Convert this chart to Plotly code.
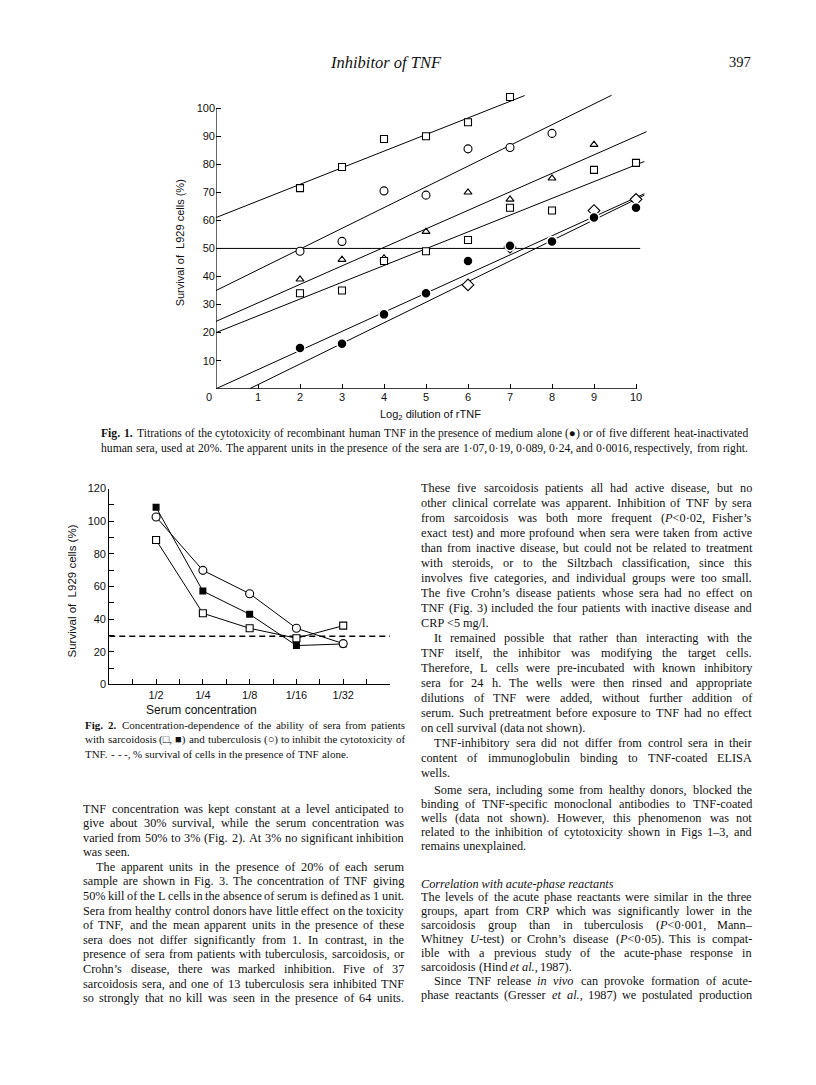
import re
import plotly.graph_objects as go

W, H = 816, 1085

# ---------------- Fig. 1: log2 dilution of rTNF vs % survival ----------------
DIL_TICKS = [1, 2, 3, 4, 5, 6, 7, 8, 9, 10]
SURV_TICKS = [10, 20, 30, 40, 50, 60, 70, 80, 90, 100]

SQ_TOP_X = [2, 3, 4, 5, 6, 7]
SQ_TOP_Y = [71.5, 79, 89, 90, 95, 104]
CIRC_X = [2, 3, 4, 5, 6, 7, 8]
CIRC_Y = [49, 52.5, 70.5, 69, 85.5, 86, 91]
TRI_X = [2, 3, 4, 5, 6, 7, 8, 9]
TRI_Y = [39, 46, 46.5, 56, 70, 67.5, 75, 87]
SQ_LOW_X = [2, 3, 4, 5, 6, 7, 8, 9, 10]
SQ_LOW_Y = [34, 35, 45.5, 49, 53, 64.5, 63.5, 78, 80.5]
MEDIUM_X = [2, 3, 4, 5, 6, 7, 8, 9, 10]
MEDIUM_Y = [14.5, 16, 26.5, 34, 45.5, 51, 52.5, 61, 64.5]
DIAM_X = [6, 7, 9, 10]
DIAM_Y = [37, 50.5, 63.5, 67.5]

# fitted lines as drawn (end points)
FIT_SQ_TOP_X, FIT_SQ_TOP_Y = [0, 7.35], [61, 104.5]
FIT_CIRC_X, FIT_CIRC_Y = [0, 9.42], [35, 104.6]
FIT_TRI_X, FIT_TRI_Y = [0, 10.25], [24, 91.6]
FIT_SQ_LOW_X, FIT_SQ_LOW_Y = [0, 10.2], [20, 81]
FIT_MEDIUM_X, FIT_MEDIUM_Y = [0, 10.2], [0, 69.5]
FIT_DIAM_X, FIT_DIAM_Y = [0.8, 10.2], [0, 69]
HALF_KILL_X, HALF_KILL_Y = [0, 10.1], [50, 50]

# ---------------- Fig. 2: serum concentration vs % survival ----------------
CONC = ["1/2", "1/4", "1/8", "1/16", "1/32"]
SARC_OPEN = [88.5, 43.6, 34.4, 28.3, 36]
SARC_FILLED = [108.5, 57.2, 43, 23.8, 24.8]
TB_OPEN = [102.6, 69.9, 55.6, 34.4, 25]
TNF_ALONE = 29.5
SURV2_TICKS = [0, 20, 40, 60, 80, 100, 120]

# ---------------- page text ----------------
HEADER = "Inhibitor of TNF"
PAGE_NO = "397"

CAPTION1 = [
    "Fig. 1. Titrations of the cytotoxicity of recombinant human TNF in the presence of medium alone (\u25cf) or of five different heat-inactivated",
    "human sera, used at 20%. The apparent units in the presence of the sera are 1\u00b707, 0\u00b719, 0\u00b7089, 0\u00b724, and 0\u00b70016, respectively, from right.",
]
CAPTION2 = [
    "Fig. 2. Concentration-dependence of the ability of sera from patients",
    "with sarcoidosis (\u25a1, \u25a0) and tuberculosis (\u25cb) to inhibit the cytotoxicity of",
    "TNF. - - -, % survival of cells in the presence of TNF alone.",
]

LEFT_PARAS = [
    (False, [
        "TNF concentration was kept constant at a level anticipated to",
        "give about 30% survival, while the serum concentration was",
        "varied from 50% to 3% (Fig. 2). At 3% no significant inhibition",
        "was seen.",
    ], False),
    (True, [
        "The apparent units in the presence of 20% of each serum",
        "sample are shown in Fig. 3. The concentration of TNF giving",
        "50% kill of the L cells in the absence of serum is defined as 1 unit.",
        "Sera from healthy control donors have little effect on the toxicity",
        "of TNF, and the mean apparent units in the presence of these",
        "sera does not differ significantly from 1. In contrast, in the",
        "presence of sera from patients with tuberculosis, sarcoidosis, or",
        "Crohn\u2019s disease, there was marked inhibition. Five of 37",
        "sarcoidosis sera, and one of 13 tuberculosis sera inhibited TNF",
        "so strongly that no kill was seen in the presence of 64 units.",
    ], True),
]

RIGHT_PARAS_TOP = [
    (False, [
        "These five sarcoidosis patients all had active disease, but no",
        "other clinical correlate was apparent. Inhibition of TNF by sera",
        "from sarcoidosis was both more frequent (<i>P</i><0\u00b702, Fisher\u2019s",
        "exact test) and more profound when sera were taken from active",
        "than from inactive disease, but could not be related to treatment",
        "with steroids, or to the Siltzbach classification, since this",
        "involves five categories, and individual groups were too small.",
        "The five Crohn\u2019s disease patients whose sera had no effect on",
        "TNF (Fig. 3) included the four patients with inactive disease and",
        "CRP <5 mg/l.",
    ], False),
    (True, [
        "It remained possible that rather than interacting with the",
        "TNF itself, the inhibitor was modifying the target cells.",
        "Therefore, L cells were pre-incubated with known inhibitory",
        "sera for 24 h. The wells were then rinsed and appropriate",
        "dilutions of TNF were added, without further addition of",
        "serum. Such pretreatment before exposure to TNF had no effect",
        "on cell survival (data not shown).",
    ], False),
    (True, [
        "TNF-inhibitory sera did not differ from control sera in their",
        "content of immunoglobulin binding to TNF-coated ELISA",
        "wells.",
    ], False),
]

RIGHT_PARAS_MID = [
    (True, [
        "Some sera, including some from healthy donors, blocked the",
        "binding of TNF-specific monoclonal antibodies to TNF-coated",
        "wells (data not shown). However, this phenomenon was not",
        "related to the inhibition of cytotoxicity shown in Figs 1\u20133, and",
        "remains unexplained.",
    ], False),
]

HEADING = "Correlation with acute-phase reactants"

RIGHT_PARAS_BOTTOM = [
    (False, [
        "The levels of the acute phase reactants were similar in the three",
        "groups, apart from CRP which was significantly lower in the",
        "sarcoidosis group than in tuberculosis (<i>P</i><0\u00b7001, Mann\u2013",
        "Whitney <i>U</i>-test) or Crohn\u2019s disease (<i>P</i><0\u00b705). This is compat-",
        "ible with a previous study of the acute-phase response in",
        "sarcoidosis (Hind <i>et</i> <i>al.</i>, 1987).",
    ], False),
    (True, [
        "Since TNF release <i>in</i> <i>vivo</i> can provoke formation of acute-",
        "phase reactants (Gresser <i>et</i> <i>al.</i>, 1987) we postulated production",
    ], True),
]

# Times-Roman advance widths (1/1000 em), Liberation Serif is metric compatible
TIMES = {" ": 250, "!": 333, "%": 833, "(": 333, ")": 333, ",": 250, "-": 333,
         ".": 250, "/": 278, ":": 278, ";": 278, "<": 564, "=": 564, "\u00b7": 250,
         "\u2013": 500, "\u2019": 333, "'": 333,
         "\u25cf": 604, "\u25a1": 604, "\u25a0": 604, "\u25cb": 604}
TIMES.update({d: 500 for d in "0123456789"})
TIMES.update(dict(zip("ABCDEFGHIJKLMNOPQRSTUVWXYZ",
                      [722, 667, 667, 722, 611, 556, 722, 722, 333, 389, 722, 611, 889,
                       722, 722, 556, 722, 667, 556, 611, 722, 722, 944, 722, 722, 611])))
TIMES.update(dict(zip("abcdefghijklmnopqrstuvwxyz",
                      [444, 500, 444, 500, 444, 333, 500, 500, 278, 278, 500, 278, 778,
                       500, 500, 500, 500, 333, 389, 278, 500, 500, 722, 500, 500, 444])))


def em_width(word, bold=False):
    plain = re.sub(r"<[^>]+>", "", word)
    w = sum(TIMES.get(c, 500) for c in plain) / 1000.0
    return w * (1.07 if bold else 1.0)


def line_em(words, bolds):
    return sum(em_width(w, b) for w, b in zip(words, bolds)) + 0.25 * (len(words) - 1)


def fit_font(lines, width, bold_lead=0):
    best = 99
    for k, ln in enumerate(lines):
        words = ln.split(" ")
        bolds = [(k == 0 and bold_lead > i) for i in range(len(words))]
        best = min(best, width / line_em(words, bolds))
    return best * 0.99


fig = go.Figure()
annots = []

SERIF = "Liberation Serif"
SANS = "Liberation Sans"


def px_ann(text, x, y, size, family=SERIF, xanchor="left", angle=0):
    annots.append(dict(text=text, x=x / W, y=1 - y / H, xref="paper", yref="paper",
                       xanchor=xanchor, yanchor="middle", showarrow=False,
                       textangle=angle, borderpad=0, borderwidth=0,
                       font=dict(family=family, size=size, color="#111")))


def set_lines(lines, x0, x1, ys, size, justify, indents, bold_lead=0):
    for k, ln in enumerate(lines):
        words = ln.split(" ")
        bolds = [(k == 0 and i < bold_lead) for i in range(len(words))]
        ws = [em_width(w, b) * size for w, b in zip(words, bolds)]
        start = x0 + indents[k]
        if justify[k] and len(words) > 1:
            gap = (x1 - start - sum(ws)) / (len(words) - 1)
        else:
            gap = 0.25 * size
        x = start
        for w, b, wd in zip(words, bolds, ws):
            px_ann("<b>%s</b>" % w if b else w, x, ys[k], size)
            x += wd + gap


def set_paras(paras, x0, x1, y0, dy, size, indent=13):
    y = y0
    for ind, lines, cont in paras:
        n = len(lines)
        ys = [y + i * dy for i in range(n)]
        just = [i < n - 1 or cont for i in range(n)]
        inds = [indent if (i == 0 and ind) else 0 for i in range(n)]
        set_lines(lines, x0, x1, ys, size, just, inds)
        y += n * dy


# ---------------- Fig. 1 traces ----------------
line_style = dict(color="black", width=1)
for fx, fy in [(FIT_SQ_TOP_X, FIT_SQ_TOP_Y), (FIT_CIRC_X, FIT_CIRC_Y), (FIT_TRI_X, FIT_TRI_Y),
               (FIT_SQ_LOW_X, FIT_SQ_LOW_Y), (FIT_MEDIUM_X, FIT_MEDIUM_Y),
               (FIT_DIAM_X, FIT_DIAM_Y), (HALF_KILL_X, HALF_KILL_Y)]:
    fig.add_trace(go.Scatter(x=fx, y=fy, mode="lines", line=line_style,
                             xaxis="x", yaxis="y", hoverinfo="skip"))

open_mk = dict(color="white", line=dict(color="black", width=1.1))
for xs, ys, sym, sz in [(SQ_TOP_X, SQ_TOP_Y, "square", 7), (CIRC_X, CIRC_Y, "circle", 8),
                        (TRI_X, TRI_Y, "triangle-up", 7), (SQ_LOW_X, SQ_LOW_Y, "square", 7),
                        (DIAM_X, DIAM_Y, "diamond", 9)]:
    fig.add_trace(go.Scatter(x=xs, y=ys, mode="markers", xaxis="x", yaxis="y",
                             marker=dict(symbol=sym, size=sz, **open_mk)))
fig.add_trace(go.Scatter(x=MEDIUM_X, y=MEDIUM_Y, mode="markers", xaxis="x", yaxis="y",
                         marker=dict(symbol="circle", size=10, color="black",
                                     line=dict(color="white", width=1.5))))

# ---------------- Fig. 2 traces ----------------
pos = list(range(1, len(CONC) + 1))
fig.add_trace(go.Scatter(x=[0, len(CONC) + 1], y=[TNF_ALONE, TNF_ALONE], mode="lines",
                         xaxis="x2", yaxis="y2",
                         line=dict(color="black", width=1.3, dash="6px,4px")))
fig.add_trace(go.Scatter(x=pos, y=SARC_OPEN, mode="lines+markers", xaxis="x2", yaxis="y2",
                         line=line_style, marker=dict(symbol="square", size=7, **open_mk)))
fig.add_trace(go.Scatter(x=pos, y=SARC_FILLED, mode="lines+markers", xaxis="x2", yaxis="y2",
                         line=line_style, marker=dict(symbol="square", size=7, color="black")))
fig.add_trace(go.Scatter(x=pos, y=TB_OPEN, mode="lines+markers", xaxis="x2", yaxis="y2",
                         line=line_style, marker=dict(symbol="circle", size=8, **open_mk)))

# axis lines of Fig. 1 stop at 10 and 100
fig.add_shape(type="line", xref="x", yref="y", x0=0, y0=0, x1=DIL_TICKS[-1], y1=0,
              line=dict(color="black", width=1.2))
fig.add_shape(type="line", xref="x", yref="y", x0=0, y0=0, x1=0, y1=SURV_TICKS[-1],
              line=dict(color="black", width=1.2))

tickfont = dict(family=SANS, size=11, color="#111")

fig.update_layout(
    width=W, height=H, margin=dict(l=0, r=0, t=0, b=0),
    paper_bgcolor="white", plot_bgcolor="white", showlegend=False,
    xaxis=dict(domain=[216 / W, (216 + 10.6 * 42) / W], range=[0, 10.6], anchor="y",
               showgrid=False, zeroline=False, showline=False, ticks="inside",
               ticklen=5, tickcolor="black", tickvals=DIL_TICKS,
               ticktext=[str(v) for v in DIL_TICKS], tickfont=tickfont),
    yaxis=dict(domain=[1 - 387 / H, 1 - (387 - 106 * 2.837) / H], range=[0, 106], anchor="x",
               showgrid=False, zeroline=False, showline=False, ticks="inside",
               ticklen=5, tickcolor="black", tickvals=SURV_TICKS,
               ticktext=[str(v) for v in SURV_TICKS], tickfont=tickfont),
    xaxis2=dict(domain=[109.3 / W, 390 / W], range=[0, len(CONC) + 1], anchor="y2",
                showgrid=False, zeroline=False, showline=True, linecolor="black",
                linewidth=1.2, ticks="inside", ticklen=5, tickcolor="black",
                tickvals=pos, ticktext=CONC, tickfont=tickfont,
                minor=dict(dtick=0.5, tick0=0, ticks="inside", ticklen=5,
                           tickcolor="black", showgrid=False)),
    yaxis2=dict(domain=[1 - 686 / H, 1 - 488 / H], range=[0, 120], anchor="x2",
                showgrid=False, zeroline=False, showline=True, linecolor="black",
                linewidth=1.2, ticks="inside", ticklen=5, tickcolor="black",
                tickvals=SURV2_TICKS, ticktext=[str(v) for v in SURV2_TICKS],
                tickfont=tickfont,
                minor=dict(dtick=10, tick0=0, ticks="inside", ticklen=5,
                           tickcolor="black", showgrid=False)),
)

# axis titles
px_ann("0", 209, 395, 11, family=SANS, xanchor="center")
px_ann("Survival of&nbsp; L929 cells (%)", 180, 240, 11, family=SANS, xanchor="center", angle=-90)
px_ann("Log<sub>2</sub> dilution of rTNF", 430, 414, 11, family=SANS, xanchor="center")
px_ann("Survival of&nbsp; L929 cells (%)", 72, 592, 11.5, family=SANS, xanchor="center", angle=-90)
px_ann("Serum concentration", 201, 712, 12, family=SANS, xanchor="center")

# running head
px_ann("<i>" + HEADER + "</i>", 386, 57, 16.5, xanchor="center")
px_ann(PAGE_NO, 751, 57, 14.5, xanchor="right")

# captions
c1 = fit_font(CAPTION1[:1], 748 - 101, bold_lead=2)
set_lines(CAPTION1, 101, 748, [432, 447], c1, [True, True], [0, 0], bold_lead=2)
c2 = fit_font(CAPTION2[:2], 405 - 85, bold_lead=2)
set_lines(CAPTION2, 85, 405, [727, 741.5, 756], c2, [True, True, False], [0, 0, 0], bold_lead=2)

# body text
just_lines = []
for paras in [LEFT_PARAS, RIGHT_PARAS_TOP, RIGHT_PARAS_MID, RIGHT_PARAS_BOTTOM]:
    for ind, lines, cont in paras:
        for i, ln in enumerate(lines):
            if i < len(lines) - 1 or cont:
                just_lines.append(ln)
body = fit_font(just_lines, 331)
set_paras(LEFT_PARAS, 83, 404, 811.5, 14.75, body)
set_paras(RIGHT_PARAS_TOP, 421, 752, 487, 15.2, body)
set_paras(RIGHT_PARAS_MID, 421, 752, 793, 14.1, body)
px_ann("<i>" + HEADING + "</i>", 421, 887.5, body)
set_paras(RIGHT_PARAS_BOTTOM, 421, 752, 901, 14.1, body)

fig.update_layout(annotations=annots)
fig.write_html("out.html", config={"displayModeBar": False},
               post_script="document.body.style.margin='0px';"
                           "document.body.style.overflow='hidden';")
